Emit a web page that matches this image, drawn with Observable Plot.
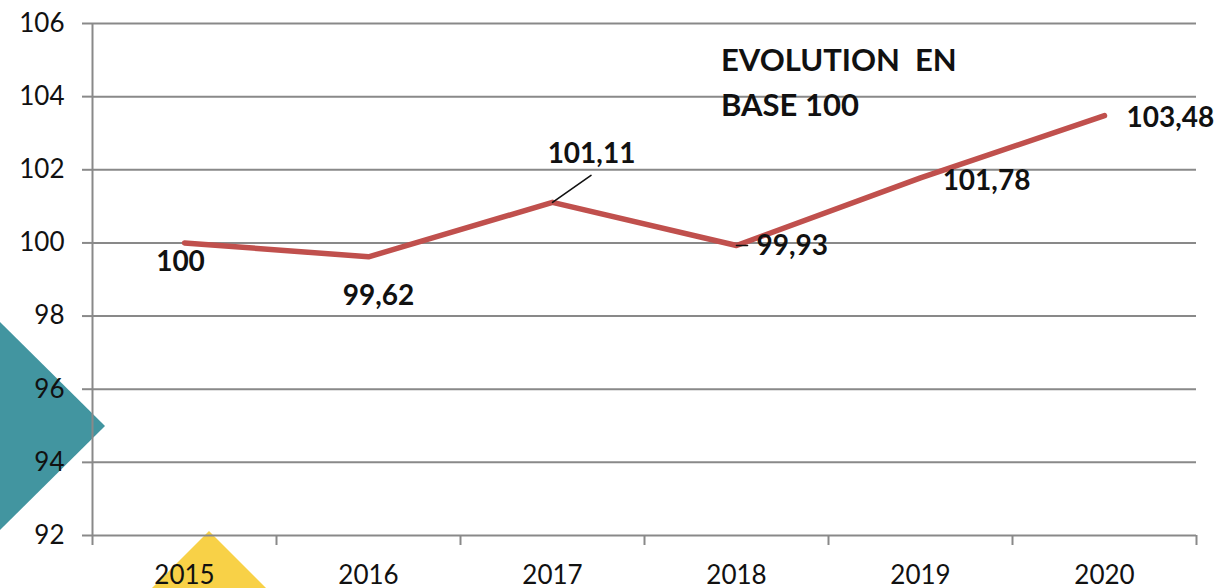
<!DOCTYPE html>
<html>
<head>
<meta charset="utf-8">
<script src="https://cdn.jsdelivr.net/npm/d3@7"></script>
<script src="https://cdn.jsdelivr.net/npm/@observablehq/plot@0.6"></script>
<style>
  html, body { margin: 0; padding: 0; background: #fff; }
  #wrap { position: relative; width: 1222px; height: 588px; overflow: hidden; font-family: Lato, "Open Sans", sans-serif; }
  .deco { position: absolute; z-index: 0; }
  #teal { left: 0; top: 322px; width: 105px; height: 208px; background: #4295A0; clip-path: polygon(0 0, 100% 50%, 0 100%); }
  #yellow { left: 152px; top: 531px; width: 114px; height: 57px; background: #F8D147; clip-path: polygon(50% 0, 100% 100%, 0 100%); }
  #chart { position: absolute; left: 0; top: 0; z-index: 1; }
  #title { position: absolute; z-index: 2; left: 721px; top: 37px; font-weight: 700; font-size: 31px; line-height: 45px; color: #111; white-space: pre; }
</style>
</head>
<body>
<div id="wrap">
  <div class="deco" id="teal"></div>
  <div class="deco" id="yellow"></div>
  <div id="chart"></div>
  <div id="title">EVOLUTION  EN
BASE 100</div>
</div>
<script>
const years = [2015, 2016, 2017, 2018, 2019, 2020];
const values = [100, 99.62, 101.11, 99.93, 101.78, 103.48];
const valueLabels = ["100", "99,62", "101,11", "99,93", "101,78", "103,48"];
const yTicks = [92, 94, 96, 98, 100, 102, 104, 106];
const xBounds = [2014.5, 2015.5, 2016.5, 2017.5, 2018.5, 2019.5, 2020.5];

const data = years.map((year, i) => ({year, value: values[i], label: valueLabels[i]}));

const gray = "#898989";
const red = "#C0504D";
const labelFont = {fontSize: 28, fontWeight: "bold", fill: "#111"};

function label(i, opts) {
  return Plot.text([data[i]], {x: "year", y: "value", text: "label", ...labelFont, ...opts});
}

const lineShape = {
  draw(context, l) {
    context.moveTo(0, 0);
    context.lineTo(0, -l);
  }
};

const chart = Plot.plot({
  width: 1222,
  height: 588,
  marginLeft: 92,
  marginRight: 26,
  marginTop: 23,
  marginBottom: 53,
  style: {background: "transparent", fontFamily: "Lato, 'Open Sans', sans-serif"},
  x: {domain: [xBounds[0], xBounds[xBounds.length - 1]]},
  y: {domain: [yTicks[0], yTicks[yTicks.length - 1]]},
  marks: [
    Plot.ruleY(yTicks, {stroke: gray, strokeWidth: 2}),
    Plot.ruleX([xBounds[0]], {stroke: gray, strokeWidth: 2}),
    Plot.axisY({ticks: yTicks, tickSize: 10, tickPadding: 18, fontSize: 26, stroke: gray, strokeWidth: 2, fill: "#111", label: null, tickFormat: d => String(d)}),
    Plot.axisX({ticks: xBounds, tickSize: 10, stroke: gray, strokeWidth: 2, label: null, tickFormat: () => ""}),
    Plot.axisX({ticks: years, tickSize: 0, tickPadding: 30, fontSize: 26, fill: "#111", label: null, tickFormat: d => String(d)}),
    Plot.line(data, {x: "year", y: "value", stroke: red, strokeWidth: 5.5, strokeLinecap: "round", strokeLinejoin: "round"}),
    Plot.vector([data[2]], {x: "year", y: "value", anchor: "start", length: 47, rotate: 55, shape: lineShape, stroke: "#111", strokeWidth: 1.6}),
    Plot.vector([data[3]], {x: "year", y: "value", anchor: "start", length: 11, rotate: 90, shape: lineShape, stroke: "#111", strokeWidth: 1.6}),
    label(0, {dx: -4, dy: 19}),
    label(1, {dx: 10, dy: 39}),
    label(2, {dx: 39, dy: -48}),
    label(3, {textAnchor: "start", dx: 20, dy: 1}),
    label(4, {dx: 66, dy: 3}),
    label(5, {textAnchor: "start", dx: 22, dy: 2})
  ]
});
document.getElementById("chart").appendChild(chart);
</script>
</body>
</html>
